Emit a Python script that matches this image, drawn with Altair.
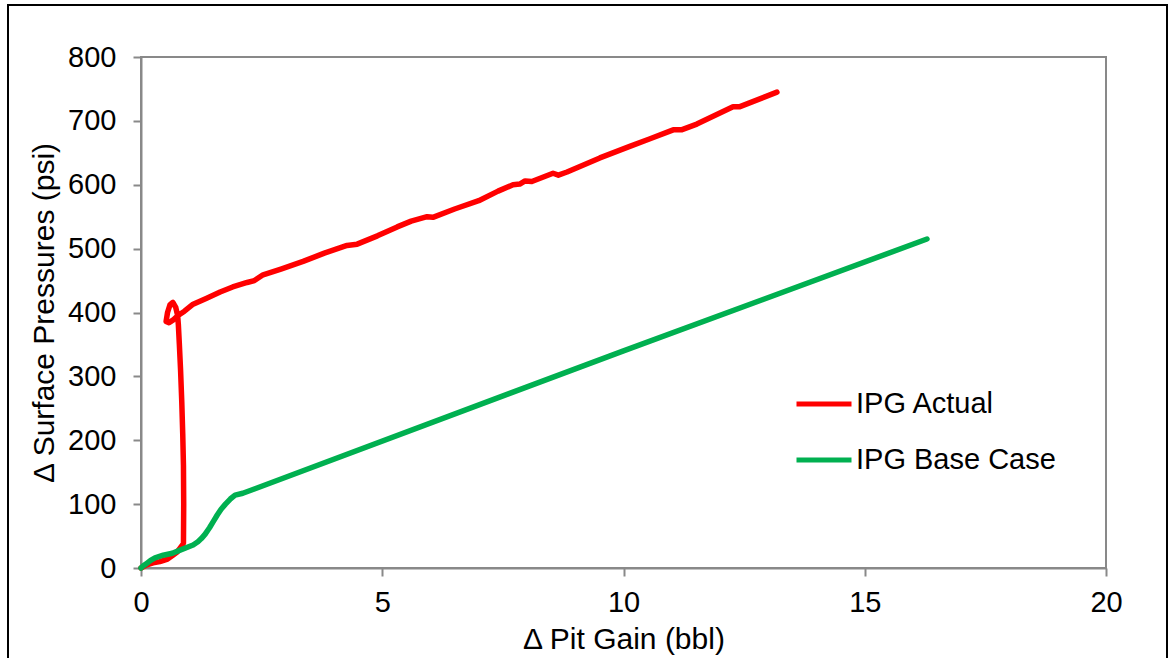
import altair as alt
import pandas as pd

# IPG Actual: pit gain (bbl) vs. surface pressure change (psi), in drawing order
actual_x = [0, 0.12, 0.25, 0.39, 0.55, 0.66, 0.75, 0.81, 0.86, 0.88, 0.885, 0.88,
            0.865, 0.845, 0.82, 0.795, 0.775, 0.76, 0.72, 0.66, 0.60, 0.55, 0.52,
            0.58, 0.66, 0.76, 0.90, 1.08, 1.35, 1.64, 1.90, 2.20, 2.35, 2.53, 2.90,
            3.36, 3.80, 4.27, 4.48, 4.90, 5.31, 5.60, 5.93, 6.05, 6.50, 7.00, 7.40,
            7.71, 7.85, 7.96, 8.10, 8.54, 8.65, 8.83, 9.51, 10.13, 10.55, 11.03,
            11.20, 11.52, 12.27, 12.40, 13.18]
actual_y = [0, 5, 8, 10, 14, 20, 25, 31, 36, 39, 100, 160,
            210, 260, 310, 350, 380, 395, 408, 416, 412, 400, 386,
            384, 388, 395, 402, 413, 422, 432, 440, 447, 450, 459, 468,
            480, 493, 505, 507, 520, 534, 543, 550, 549, 562, 575, 590,
            600, 601, 606, 605, 618, 615, 620, 642, 660, 672, 686,
            686, 695, 722, 722, 745]

# IPG Base Case
base_x = [0, 0.04, 0.10, 0.20, 0.29, 0.46, 0.65, 0.81, 1.08, 1.18, 1.25, 1.33,
          1.42, 1.50, 1.58, 1.66, 1.75, 1.85, 1.95, 2.11, 10.0, 16.29]
base_y = [0, 3, 6, 12, 16, 20, 23, 28, 36, 41, 46, 53,
          63, 73, 83, 92, 100, 108, 114, 117, 340, 515]

series_names = ["IPG Actual", "IPG Base Case"]
series_colors = ["#FF0000", "#00B050"]
x_ticks = [0, 5, 10, 15, 20]
y_ticks = [0, 100, 200, 300, 400, 500, 600, 700, 800]

rows = []
for i, (xv, yv) in enumerate(zip(actual_x, actual_y)):
    rows.append({"series": series_names[0], "gain": xv, "pressure": yv, "seq": i})
for i, (xv, yv) in enumerate(zip(base_x, base_y)):
    rows.append({"series": series_names[1], "gain": xv, "pressure": yv, "seq": i})
df = pd.DataFrame(rows)

FONT = "Liberation Sans"
W, H = 965, 511

lines = alt.Chart(df).mark_line(strokeWidth=5.5, strokeCap="round",
                                 strokeJoin="round").encode(
    x=alt.X("gain:Q",
            scale=alt.Scale(domain=[0, 20], nice=False, zero=False),
            axis=alt.Axis(values=x_ticks, title="Δ Pit Gain (bbl)", grid=False,
                          titleX=W / 2, titleY=80, titleBaseline="alphabetic",
                          labelPadding=12, labelFlush=False)),
    y=alt.Y("pressure:Q",
            scale=alt.Scale(domain=[0, 800], nice=False),
            axis=alt.Axis(values=y_ticks, title="Δ Surface Pressures (psi)",
                          grid=False, titleX=-88, titleY=H / 2,
                          titleBaseline="alphabetic", labelPadding=17,
                          labelFlush=False)),
    color=alt.Color("series:N",
                    scale=alt.Scale(domain=series_names, range=series_colors),
                    legend=alt.Legend(title=None, orient="none", legendX=653,
                                      legendY=317, symbolType="stroke",
                                      symbolSize=3025, symbolStrokeWidth=5,
                                      labelOffset=2, rowPadding=11, padding=0,
                                      labelLimit=400,
                                      labelFontSize=29, labelFont=FONT,
                                      labelColor="#000000")),
    order="seq:Q",
)

# outer chart frame
frame = alt.Chart(pd.DataFrame({"k": [0]})).mark_rect(
    fill=None, stroke="#000000", strokeWidth=2
).encode(x=alt.value(-133), x2=alt.value(1026), y=alt.value(-52), y2=alt.value(700))

chart = alt.layer(frame, lines).properties(
    width=W, height=H,
    padding={"left": 141, "top": 57, "right": 64, "bottom": 90},
    autosize=alt.AutoSizeParams(type="none"),
    background="#FFFFFF",
).configure_view(
    stroke="#898989", strokeWidth=2
).configure_axis(
    labelFont=FONT, titleFont=FONT, labelFontSize=29, titleFontSize=30,
    labelColor="#000000", titleColor="#000000", titleFontWeight="normal",
    domainColor="#898989", tickColor="#898989", domainWidth=2, tickWidth=2,
    tickSize=8,
)

chart.save("out.html", embed_options={"renderer": "svg", "actions": False})
